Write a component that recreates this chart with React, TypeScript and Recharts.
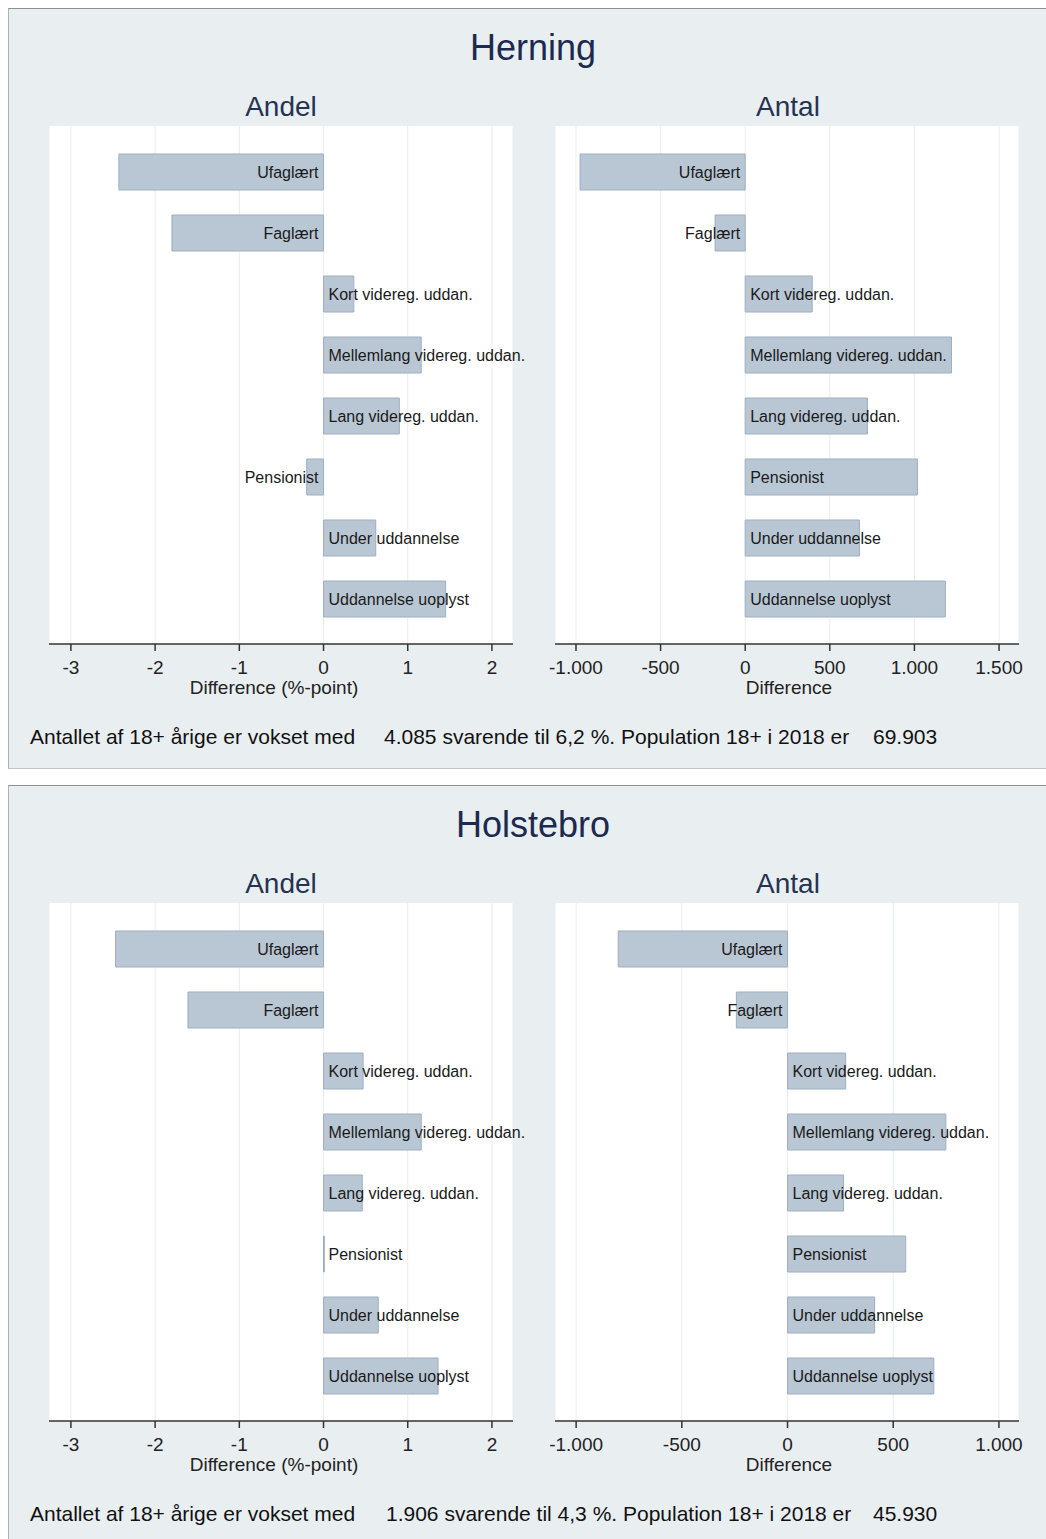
import React from "react";
import { BarChart, Bar, XAxis, YAxis, CartesianGrid, LabelList } from "recharts";

const categories = [
  "Ufaglært",
  "Faglært",
  "Kort videreg. uddan.",
  "Mellemlang videreg. uddan.",
  "Lang videreg. uddan.",
  "Pensionist",
  "Under uddannelse",
  "Uddannelse uoplyst"
];

const herningAndel = [-2.43, -1.8, 0.36, 1.16, 0.9, -0.2, 0.62, 1.45];
const herningAntal = [-976, -178, 396, 1219, 722, 1018, 675, 1183];
const holstebroAndel = [-2.47, -1.61, 0.47, 1.16, 0.46, 0.01, 0.65, 1.36];
const holstebroAntal = [-801, -242, 275, 749, 265, 559, 412, 692];

const andelTicks = [-3, -2, -1, 0, 1, 2];
const herningAntalTicks = [-1000, -500, 0, 500, 1000, 1500];
const holstebroAntalTicks = [-1000, -500, 0, 500, 1000];

const herningFooter = ["Antallet af 18+ årige er vokset med", "4.085 svarende til 6,2 %. Population 18+ i 2018 er", "69.903"];
const holstebroFooter = ["Antallet af 18+ årige er vokset med", "1.906 svarende til 4,3 %. Population 18+ i 2018 er", "45.930"];

const FONT = '"Liberation Sans", Arial, sans-serif';
const AXIS = "#333333";

// danish thousands separator
const fmt = (n: number) => {
  const s = Math.abs(n).toString().replace(/\B(?=(\d{3})+(?!\d))/g, ".");
  return (n < 0 ? "-" : "") + s;
};

const makeLabel = (values: number[]) => (p: any) => {
  const { x, y, width, height, value, index } = p;
  const v = values[index] ?? width;
  const zeroX = v >= 0 ? Math.min(x, x + width) : Math.max(x, x + width);
  const cy = y + height / 2;
  return (
    <text
      x={v >= 0 ? zeroX + 5 : zeroX - 5}
      y={cy + 6}
      textAnchor={v >= 0 ? "start" : "end"}
      fontSize={16}
      fill="#1a1a1a"
      fontFamily={FONT}
    >
      {value}
    </text>
  );
};

interface ChartProps {
  values: number[];
  domain: [number, number];
  ticks: number[];
  left: number;
  top: number;
  marginLeft: number;
}

const DiffChart: React.FC<ChartProps> = ({ values, domain, ticks, left, top, marginLeft }) => {
  const rows = categories.map((name, i) => ({ name, value: values[i] }));
  return (
    <div style={{ position: "absolute", left, top }}>
      <BarChart
        width={marginLeft + 464 + 30}
        height={568}
        data={rows}
        layout="vertical"
        margin={{ top: 10, right: 30, left: marginLeft, bottom: 0 }}
        style={{ overflow: "visible" }}
      >
        <CartesianGrid horizontal={false} stroke="#e9edf0" fill="#ffffff" fillOpacity={1} />
        <XAxis
          type="number"
          domain={domain}
          ticks={ticks}
          allowDataOverflow
          interval={0}
          height={40}
          tickSize={7}
          tickMargin={10}
          tickFormatter={fmt}
          tick={{ fontSize: 19, fill: "#222", fontFamily: FONT }}
          axisLine={{ stroke: AXIS, strokeWidth: 1.5 }}
          tickLine={{ stroke: AXIS, strokeWidth: 1.5 }}
        />
        <YAxis
          type="category"
          dataKey="name"
          width={0}
          tick={false}
          tickLine={false}
          axisLine={{ stroke: AXIS, strokeWidth: 1.5 }}
          padding={{ top: 15, bottom: 15 }}
        />
        <Bar dataKey="value" fill="#b9c7d4" stroke="#9dafc0" strokeWidth={1} barSize={36} isAnimationActive={false}>
          <LabelList dataKey="name" content={makeLabel(values)} />
        </Bar>
      </BarChart>
    </div>
  );
};

const txt = (left: number, top: number, size: number, color: string, s: string, width?: number) => (
  <div
    style={{
      position: "absolute",
      left,
      top,
      width,
      textAlign: width ? "center" : "left",
      fontSize: size,
      lineHeight: `${size}px`,
      color,
      whiteSpace: "pre",
      fontFamily: FONT
    }}
  >
    {s}
  </div>
);

interface PanelProps {
  off: number;
  title: string;
  andel: number[];
  antal: number[];
  antalDomain: [number, number];
  antalTicks: number[];
  footer: string[];
  footerX: number;
}

const Panel: React.FC<PanelProps> = ({ off, title, andel, antal, antalDomain, antalTicks, footer, footerX }) => (
  <>
    <div
      style={{
        position: "absolute",
        left: 8,
        top: 8 + off,
        width: 1040,
        height: 761,
        boxSizing: "border-box",
        background: "#e9eef1",
        borderTop: "1px solid #8f8f8f",
        borderLeft: "1px solid #b0b0b0",
        borderBottom: "1px solid #c4c4c4"
      }}
    />
    {txt(333, 30 + off, 36, "#1b2a4e", title, 400)}
    {txt(181, 93 + off, 28, "#253352", "Andel", 200)}
    {txt(688, 93 + off, 28, "#253352", "Antal", 200)}
    <DiffChart values={andel} domain={[-3.26, 2.25]} ticks={andelTicks} left={8} top={116 + off} marginLeft={41} />
    <DiffChart values={antal} domain={antalDomain} ticks={antalTicks} left={515} top={116 + off} marginLeft={40} />
    {txt(124, 678 + off, 19, "#222", "Difference (%-point)", 300)}
    {txt(639, 678 + off, 19, "#222", "Difference", 300)}
    {txt(30, 726 + off, 21, "#111", footer[0])}
    {txt(footerX, 726 + off, 21, "#111", footer[1])}
    {txt(873, 726 + off, 21, "#111", footer[2])}
  </>
);

export default function App() {
  return (
    <div style={{ position: "relative", width: 1046, height: 1539, overflow: "hidden", fontFamily: FONT }}>
      <style>{`body{margin:0;overflow:hidden;background:#fff}`}</style>
      <Panel
        off={0}
        title="Herning"
        andel={herningAndel}
        antal={herningAntal}
        antalDomain={[-1124, 1618]}
        antalTicks={herningAntalTicks}
        footer={herningFooter}
        footerX={384}
      />
      <Panel
        off={777}
        title="Holstebro"
        andel={holstebroAndel}
        antal={holstebroAntal}
        antalDomain={[-1100, 1095]}
        antalTicks={holstebroAntalTicks}
        footer={holstebroFooter}
        footerX={386}
      />
    </div>
  );
}
